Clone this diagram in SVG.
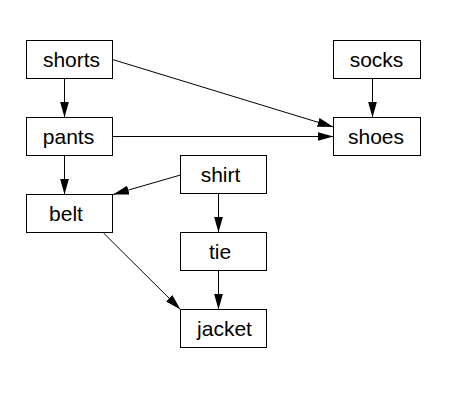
<svg xmlns="http://www.w3.org/2000/svg" width="454" height="410" viewBox="0 0 454 410">
<style>
.node rect{fill:#fff;stroke:#000;stroke-width:1}
.node text{font-family:"Liberation Sans",Arial,sans-serif;font-size:21px;fill:#000;text-anchor:middle}
#edges line{stroke:#000;stroke-width:1;marker-end:url(#ah)}
</style>
<defs>
<marker id="ah" viewBox="0 0 16 9" refX="16" refY="4.5" markerWidth="16" markerHeight="9" markerUnits="userSpaceOnUse" orient="auto">
<path d="M0,0 L16,4.5 L0,9 Z" fill="#000"/>
</marker>
</defs>
<rect width="454" height="410" fill="#fff"/>
<g id="edges">
<line x1="64.5" y1="78.5" x2="64.5" y2="117.5"/>
<line x1="64.5" y1="155.5" x2="64.5" y2="194.5"/>
<line x1="112.5" y1="59.5" x2="333.5" y2="127"/>
<line x1="112.5" y1="136.5" x2="333.5" y2="136.5"/>
<line x1="372.5" y1="78.5" x2="372.5" y2="117.5"/>
<line x1="180.5" y1="175" x2="113" y2="194.5"/>
<line x1="218.5" y1="193.5" x2="218.5" y2="232.5"/>
<line x1="218.5" y1="270.5" x2="218.5" y2="309.5"/>
<line x1="103.5" y1="233" x2="180.5" y2="309.5"/>
</g>
<g id="shorts" class="node"><rect x="26.5" y="40.5" width="86" height="38"/><text x="71.5" y="67">shorts</text></g>
<g id="socks" class="node"><rect x="333.5" y="40.5" width="87" height="38"/><text x="376.5" y="67">socks</text></g>
<g id="pants" class="node"><rect x="26.5" y="117.5" width="86" height="38"/><text x="68.5" y="144">pants</text></g>
<g id="shoes" class="node"><rect x="333.5" y="117.5" width="87" height="38"/><text x="376" y="144">shoes</text></g>
<g id="shirt" class="node"><rect x="180.5" y="155.5" width="86" height="38"/><text x="220.5" y="182">shirt</text></g>
<g id="belt" class="node"><rect x="26.5" y="194.5" width="86" height="38"/><text x="66" y="221">belt</text></g>
<g id="tie" class="node"><rect x="180.5" y="232.5" width="86" height="38"/><text x="220" y="259">tie</text></g>
<g id="jacket" class="node"><rect x="180.5" y="309.5" width="86" height="38"/><text x="224.5" y="336">jacket</text></g>
</svg>
